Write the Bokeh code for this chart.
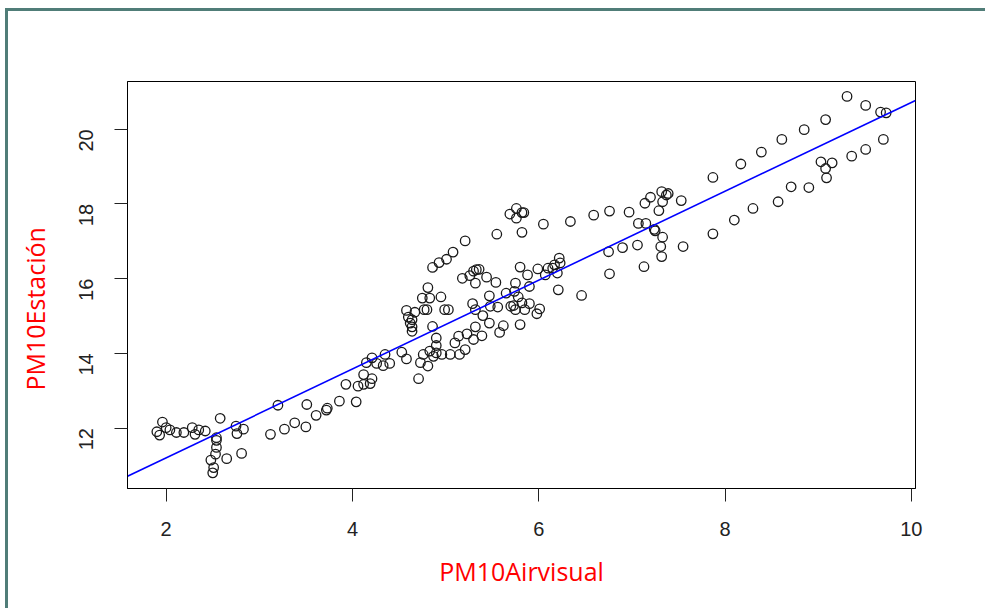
import math
from bokeh.plotting import figure
from bokeh.models import Range1d, FixedTicker, Title, ColumnDataSource
from bokeh.embed import file_html
from bokeh.resources import INLINE

# ---- data ----
pm10_airvisual = [
    1.96, 1.90, 1.93, 2.00, 2.04, 2.11, 2.19, 2.28, 2.31, 2.35, 2.42, 2.58, 2.54, 2.54, 2.54,
    2.53, 2.48, 2.51, 2.50, 2.65, 2.75, 2.76, 2.83, 2.81, 3.12, 3.20, 3.27, 3.38, 3.51, 3.50,
    3.61, 3.72, 3.73, 3.86, 3.93,
    5.21, 5.08, 5.01, 4.93, 4.86, 4.81, 4.75, 4.83, 4.95, 4.58, 4.67, 4.77, 4.80, 4.99, 5.03,
    4.60, 4.64, 4.62, 4.64, 4.64, 4.86, 4.90, 4.90, 5.18, 5.26, 5.32, 5.33, 5.29, 5.32, 5.32,
    5.23, 5.14, 5.10, 5.21, 5.15, 5.05, 4.96, 4.83, 4.76, 4.73, 4.81, 4.87, 4.90, 4.71, 4.58,
    4.53, 4.35, 4.40, 4.33, 4.26, 4.21, 4.15, 4.12, 4.21, 4.19, 4.12, 4.06, 4.04,
    5.69, 5.76, 5.82, 5.84, 5.76, 5.55, 5.82, 6.05, 6.34, 6.59, 6.76, 6.97, 7.07, 6.75, 6.90,
    7.06, 6.76, 6.22, 6.23, 6.17, 6.15, 6.10, 6.07, 6.20, 5.99, 5.80, 5.88, 5.90, 5.75, 5.54,
    5.44, 5.36, 5.30, 6.21, 6.46, 5.47, 5.65, 5.74, 5.78, 5.70, 5.73, 5.82, 5.90, 5.85, 5.75,
    6.01, 5.98, 5.56, 5.48, 5.40, 5.47, 5.62, 5.58, 5.80, 5.39, 5.30,
    8.39, 8.17, 7.87, 8.71, 8.57, 8.30, 8.10, 7.87, 7.55, 7.53, 7.32, 7.39, 7.37, 7.20, 7.14,
    7.33, 7.29, 7.15, 7.24, 7.25, 7.33, 7.31, 7.32, 7.13,
    9.31, 9.51, 9.67, 9.73, 9.08, 8.85, 8.61, 9.70, 9.51, 9.36, 9.03, 9.15, 9.08, 9.09, 8.90,
]
pm10_estacion = [
    12.16, 11.90, 11.81, 12.01, 11.95, 11.88, 11.88, 12.01, 11.83, 11.95, 11.92, 12.26, 11.74, 11.67, 11.48,
    11.30, 11.14, 10.94, 10.80, 11.18, 12.05, 11.85, 11.97, 11.32, 11.83, 12.61, 11.97, 12.14, 12.63, 12.03,
    12.34, 12.48, 12.53, 12.72, 13.17,
    17.01, 16.71, 16.52, 16.43, 16.30, 15.76, 15.48, 15.48, 15.51, 15.15, 15.10, 15.17, 15.17, 15.17, 15.17,
    14.97, 14.90, 14.81, 14.71, 14.59, 14.72, 14.41, 14.21, 16.01, 16.08, 15.88, 16.24, 15.33, 15.17, 14.71,
    14.52, 14.46, 14.28, 14.10, 13.97, 13.97, 13.97, 14.06, 13.97, 13.75, 13.66, 13.92, 14.01, 13.32, 13.85,
    14.03, 13.97, 13.73, 13.67, 13.73, 13.88, 13.75, 13.43, 13.32, 13.19, 13.17, 13.12, 12.70,
    17.73, 17.88, 17.77, 17.77, 17.62, 17.19, 17.24, 17.46, 17.53, 17.70, 17.81, 17.78, 17.48, 16.72, 16.83,
    16.90, 16.13, 16.55, 16.42, 16.37, 16.28, 16.28, 16.10, 16.15, 16.26, 16.31, 16.10, 15.79, 15.88, 15.90,
    16.04, 16.25, 16.20, 15.70, 15.55, 15.54, 15.61, 15.66, 15.51, 15.26, 15.28, 15.35, 15.33, 15.17, 15.17,
    15.19, 15.06, 15.24, 15.26, 15.01, 14.81, 14.74, 14.56, 14.77, 14.47, 14.37,
    19.39, 19.07, 18.71, 18.46, 18.06, 17.88, 17.57, 17.20, 16.86, 18.09, 18.33, 18.28, 18.24, 18.18, 18.02,
    18.06, 17.82, 17.48, 17.32, 17.28, 17.11, 16.86, 16.59, 16.32,
    20.88, 20.64, 20.46, 20.44, 20.26, 19.99, 19.73, 19.73, 19.46, 19.28, 19.13, 19.10, 18.95, 18.70, 18.44,
]
x_ticks = [2, 4, 6, 8, 10]
y_ticks = [12, 14, 16, 18, 20]
fit_intercept = 8.82
fit_slope = 1.19
x_lim = (1.585, 10.045)
y_lim = (10.38, 21.28)
x_title = "PM10Airvisual"
y_title = "PM10Estación"

src = ColumnDataSource(data=dict(x=pm10_airvisual, y=pm10_estacion))

frame_rule = "#507d78"
p = figure(width=990, height=600, output_backend="svg", toolbar_location=None,
           x_range=Range1d(*x_lim), y_range=Range1d(*y_lim),
           min_border_left=132, min_border_right=70, min_border_top=73, min_border_bottom=120,
           background_fill_color="white", border_fill_color=None)
p.styles = {
    "margin-left": "-5px",
    "margin-top": "8px",
    "background": (f"linear-gradient({frame_rule}, {frame_rule}) 10px 0 / 3px 100% no-repeat, "
                   f"linear-gradient({frame_rule}, {frame_rule}) 10px 0 / 100% 3px no-repeat, white"),
}

p.xgrid.visible = False
p.ygrid.visible = False
p.outline_line_color = "black"
p.outline_line_width = 1
p.outline_line_alpha = 1

for ax, ticks in ((p.xaxis[0], x_ticks), (p.yaxis[0], y_ticks)):
    ax.ticker = FixedTicker(ticks=ticks)
    ax.major_tick_out = 13
    ax.major_tick_in = 0
    ax.minor_tick_line_color = None
    ax.axis_line_color = "black"
    ax.major_tick_line_color = "#222222"
    ax.major_label_text_font = "Liberation Sans"
    ax.major_label_text_font_size = "20px"
    ax.major_label_text_color = "#222222"
p.xaxis[0].major_label_standoff = 20
p.yaxis[0].major_label_standoff = 28
p.yaxis[0].major_label_orientation = math.pi / 2

p.scatter("x", "y", source=src, marker="circle", size=9.5, fill_color=None,
          line_color="#1a1a1a", line_width=1.3)

fit_x = list(x_lim)
fit_y = [fit_intercept + fit_slope * v for v in fit_x]
p.line(fit_x, fit_y, line_color="#0000ff", line_width=1.6)

p.add_layout(Title(text=x_title, align="center", text_font="Open Sans", text_font_size="25px",
                   text_font_style="normal", text_color="#ff0000", standoff=26), "below")
p.add_layout(Title(text=y_title, align="left", text_font="Open Sans", text_font_size="25px",
                   text_font_style="normal", text_color="#ff0000", standoff=36, offset=98,
                   text_line_height=0.7), "left")

open("out.html", "w").write(file_html(p, INLINE))
